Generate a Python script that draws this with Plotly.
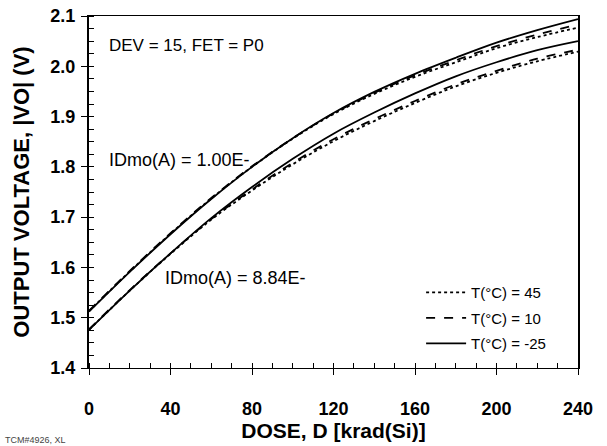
import plotly.graph_objects as go

dose = [0, 20, 40, 60, 80, 100, 120, 140, 160, 180, 200, 220, 240]

# IDmo(A) = 1.00E- group
hi_m25 = [1.512, 1.591, 1.666, 1.736, 1.800, 1.857, 1.907, 1.949, 1.985, 2.017, 2.047, 2.072, 2.094]
hi_p10 = [1.514, 1.593, 1.668, 1.738, 1.801, 1.857, 1.906, 1.947, 1.982, 2.012, 2.040, 2.063, 2.083]
hi_p45 = [1.513, 1.592, 1.667, 1.737, 1.800, 1.856, 1.905, 1.945, 1.979, 2.008, 2.036, 2.058, 2.077]

# IDmo(A) = 8.84E- group
lo_m25 = [1.476, 1.554, 1.628, 1.698, 1.760, 1.816, 1.866, 1.908, 1.946, 1.980, 2.008, 2.032, 2.050]
lo_p10 = [1.477, 1.555, 1.628, 1.696, 1.755, 1.808, 1.855, 1.895, 1.931, 1.964, 1.991, 2.015, 2.033]
lo_p45 = [1.476, 1.554, 1.627, 1.695, 1.753, 1.805, 1.851, 1.891, 1.927, 1.960, 1.987, 2.010, 2.029]

x_ticks = [0, 40, 80, 120, 160, 200, 240]
y_ticks = [1.4, 1.5, 1.6, 1.7, 1.8, 1.9, 2.0, 2.1]

series = [
    ("T(°C) = 45", "dot", hi_p45, lo_p45),
    ("T(°C) = 10", "dash", hi_p10, lo_p10),
    ("T(°C) = -25", "solid", hi_m25, lo_m25),
]

FONT = "Liberation Sans, Arial, sans-serif"
fig = go.Figure()
for name, dash, hi, lo in series:
    for k, ys in enumerate((hi, lo)):
        fig.add_trace(go.Scatter(
            x=dose, y=ys, mode="lines", name=name,
            line=dict(color="black", width=1.8, dash=dash, shape="spline"),
            legendgroup=name, showlegend=(k == 0),
        ))

fig.update_layout(
    width=607, height=446,
    margin=dict(l=89, r=29, t=16, b=78),
    paper_bgcolor="white", plot_bgcolor="white",
    font=dict(family=FONT, color="black"),
    showlegend=True,
    legend=dict(x=0.945, y=0.261, xanchor="right", yanchor="top",
                bgcolor="rgba(0,0,0,0)", font=dict(size=15, family=FONT),
                tracegroupgap=3, itemwidth=40),
    xaxis=dict(range=[0, 240], tickvals=x_ticks, showgrid=False, zeroline=False,
               automargin=False,
               showline=True, linecolor="black", linewidth=1, mirror=True,
               ticks="outside", ticklen=6, tickcolor="black",
               tickfont=dict(size=18, weight="bold", family=FONT),
               ticklabelstandoff=18,
               minor=dict(dtick=10, ticks="inside", ticklen=5, tickcolor="black"),
               title=dict(text="DOSE, D [krad(Si)]", standoff=0,
                          font=dict(size=21, weight="bold", family=FONT))),
    yaxis=dict(range=[1.4, 2.1], tickvals=y_ticks, tickformat=".1f",
               showgrid=False, zeroline=False, automargin=False,
               showline=True, linecolor="black", linewidth=2, mirror=True,
               ticks="outside", ticklen=6, tickcolor="black",
               tickfont=dict(size=18, weight="bold", family=FONT),
               ticklabelstandoff=2,
               minor=dict(dtick=0.025, ticks="inside", ticklen=5, tickcolor="black"),
               title=dict(text="OUTPUT VOLTAGE, |VO| (V)", standoff=15,
                          font=dict(size=22, weight="bold", family=FONT))),
)

ann = [
    ("DEV = 15, FET = P0", 8.8, 2.042, 17),
    ("IDmo(A) = 1.00E-", 8.8, 1.8135, 18),
    ("IDmo(A) = 8.84E-", 36.2, 1.579, 18),
]
for text, xv, yv, fs in ann:
    fig.add_annotation(x=xv, y=yv, text=text, showarrow=False, xanchor="left",
                       font=dict(size=fs, family=FONT, color="black"))

fig.add_annotation(xref="paper", yref="paper", x=-0.176, y=-0.2045, text="TCM#4926, XL",
                   showarrow=False, xanchor="left", yanchor="middle",
                   font=dict(size=9, family=FONT, color="#444444"))

fig.write_html("out.html", config={"displayModeBar": False},
               post_script="document.body.style.margin='0';document.body.style.padding='0';")
